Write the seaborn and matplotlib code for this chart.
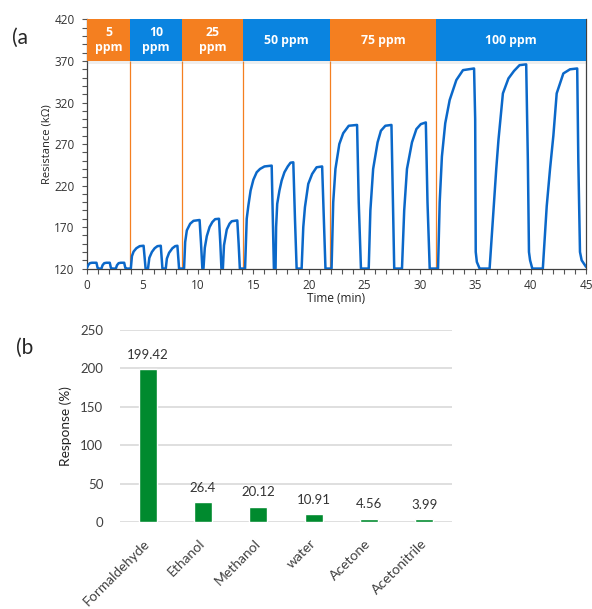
import matplotlib
matplotlib.use("Agg")
import matplotlib.pyplot as plt
import seaborn as sns
from matplotlib.patches import Rectangle
from matplotlib.ticker import MultipleLocator

# (a) resistance trace, time in min, resistance in kOhm
time_min = [
    0.0, 0.1, 0.25, 0.45, 0.85, 0.95, 1.0,
    1.3, 1.4, 1.55, 1.75, 2.05, 2.15, 2.2,
    2.6, 2.7, 2.85, 3.05, 3.35, 3.45, 3.5,
    3.95, 4.05, 4.2, 4.45, 4.75, 5.1, 5.2, 5.28,
    5.5, 5.62, 5.85, 6.1, 6.35, 6.65, 6.74, 6.8,
    7.1, 7.2, 7.4, 7.7, 7.95, 8.15, 8.24, 8.3,
    8.75, 8.85, 9.0, 9.3, 9.6, 10.15, 10.28, 10.4,
    10.5, 10.62, 10.8, 11.05, 11.3, 11.55, 11.9, 12.02, 12.12,
    12.25, 12.35, 12.6, 12.85, 13.05, 13.55, 13.67, 13.78,
    14.25, 14.4, 14.55, 14.75, 15.0, 15.3, 15.6, 16.0, 16.65, 16.75, 16.85,
    17.0, 17.05, 17.15, 17.35, 17.55, 17.8, 18.1, 18.35, 18.6, 18.75, 18.9,
    19.35, 19.5, 19.65, 19.95, 20.3, 20.7, 21.2, 21.35, 21.5,
    22.05, 22.2, 22.4, 22.75, 23.1, 23.6, 24.35, 24.5, 24.7,
    25.4, 25.55, 25.8, 26.2, 26.5, 26.9, 27.45, 27.58, 27.7,
    28.4, 28.6, 28.85, 29.3, 29.7, 30.1, 30.55, 30.7, 30.9,
    31.65, 31.8, 32.0, 32.3, 32.7, 33.3, 33.9, 34.9, 35.0, 35.05, 35.15, 35.4,
    36.3, 36.6, 36.9, 37.1, 37.5, 38.0, 38.5, 39.0, 39.6, 39.75, 39.85, 39.95, 40.15,
    41.1, 41.45, 41.75, 42.05, 42.35, 42.95, 43.55, 44.2, 44.3, 44.45, 44.6, 45.0,
]
resistance_kohm = [
    121, 124, 126.5, 127, 127, 121, 120,
    120, 124, 126.5, 127, 127, 121, 120,
    120, 124, 126.5, 127, 127, 121, 120,
    120, 135, 140.5, 144.5, 147, 147.5, 132, 120,
    120, 133, 140, 144.5, 147, 147.5, 132, 120,
    120, 132, 139, 144.5, 147, 147.5, 132, 120,
    120, 152, 166, 174, 177.5, 178.5, 150, 120,
    120, 145, 159, 170, 176, 179.5, 180, 150, 120,
    120, 148, 167, 174, 177, 178, 150, 120,
    120, 180, 196, 214, 227, 236, 240, 243, 244, 180, 120,
    120, 170, 198, 214, 226, 236, 243, 247.5, 248, 180, 120,
    120, 170, 194, 222, 234, 242, 243, 180, 120,
    120, 200, 240, 270, 283, 292, 293, 200, 120,
    120, 190, 240, 272, 286, 292, 293, 200, 120,
    120, 190, 240, 272, 288, 294, 296, 200, 120,
    120, 200, 255, 295, 323, 347, 359, 361, 300, 140, 128, 120,
    120, 180, 240, 275, 331, 349, 358, 365, 366, 250, 140, 130, 120,
    120, 195, 240, 280, 331, 355, 360, 361, 250, 140, 130, 122,
]
band_edges = [0, 3.9, 8.55, 14.1, 21.9, 31.5, 45]
band_labels = ["5\nppm", "10\nppm", "25\nppm", "50 ppm", "75 ppm", "100 ppm"]

# (b) response to the different vapours
solvents = ["Formaldehyde", "Ethanol", "Methanol", "water", "Acetone", "Acetonitrile"]
response_pct = [199.42, 26.4, 20.12, 10.91, 4.56, 3.99]
response_text = ["199.42", "26.4", "20.12", "10.91", "4.56", "3.99"]

ORANGE = "#F47F20"
BLUE = "#0A84E0"
TRACE = "#0B68C9"
GREEN = "#008A2E"

sns.set_style("ticks")
plt.rcParams["font.family"] = ["Open Sans", "DejaVu Sans"]

fig = plt.figure(figsize=(5.92, 6.09), dpi=100)
ax_a = fig.add_axes([0.147, 0.559, 0.843, 0.409])
ax_b = fig.add_axes([0.2027, 0.1424, 0.5608, 0.3158])

# ---- panel (a)
sns.lineplot(x=time_min, y=resistance_kohm, sort=False, estimator=None,
             color=TRACE, linewidth=1.8, ax=ax_a, zorder=3)
ax_a.vlines(band_edges[1:-1], 120, 370, color=ORANGE, linewidth=0.9, zorder=2)
for i, (x0, x1) in enumerate(zip(band_edges[:-1], band_edges[1:])):
    colour = ORANGE if i % 2 == 0 else BLUE
    # soft drop shadow under the header bands
    ax_a.add_patch(Rectangle((x0, 366), x1 - x0, 4, facecolor="#909090",
                             alpha=0.15, edgecolor="none", zorder=3.5))
    ax_a.add_patch(Rectangle((x0, 370), x1 - x0, 50, facecolor=colour,
                             edgecolor="none", zorder=4))
    ax_a.text((x0 + x1) / 2, 395, band_labels[i], ha="center", va="center",
              color="white", fontweight="bold", fontsize=8.8, linespacing=1.2,
              zorder=5)
ax_a.set_xlim(0, 45)
ax_a.set_ylim(120, 420)
ax_a.set_xticks(range(0, 46, 5))
ax_a.set_yticks(range(120, 421, 50))
ax_a.xaxis.set_minor_locator(MultipleLocator(1))
ax_a.yaxis.set_minor_locator(MultipleLocator(10))
ax_a.tick_params(which="both", direction="out", length=3.5, width=0.8,
                 color="#555555", labelsize=8.5, labelcolor="#333333")
ax_a.tick_params(axis="y", pad=5.5)
ax_a.tick_params(axis="x", pad=4)
ax_a.spines["top"].set_visible(False)
for side in ["left", "bottom", "right"]:
    ax_a.spines[side].set_color("#404040")
    ax_a.spines[side].set_linewidth(0.9)
ax_a.set_xlabel("Time (min)", fontsize=8.5, labelpad=0, color="#222222")
ax_a.set_ylabel("Resistance (kΩ)", fontsize=8, labelpad=1, color="#222222")

# ---- panel (b)
sns.barplot(x=solvents, y=response_pct, color=GREEN, saturation=1,
            width=0.32, ax=ax_b, zorder=3)
ax_b.bar_label(ax_b.containers[0], labels=response_text, padding=6,
               fontsize=9.5, color="#333333", family="Lato")
ax_b.set_xlim(-0.5, 5.5)
ax_b.set_ylim(0, 250)
ax_b.set_yticks(range(0, 251, 50))
ax_b.grid(axis="y", color="#D9D9D9", linewidth=1.2)
ax_b.set_axisbelow(True)
sns.despine(ax=ax_b, left=True, bottom=True)
ax_b.tick_params(axis="y", length=0, pad=12, labelsize=9.5, labelcolor="#404040")
ax_b.tick_params(axis="x", length=0, pad=14, labelsize=10, labelcolor="#404040")
for lab in ax_b.get_yticklabels() + ax_b.get_xticklabels():
    lab.set_family("Lato")
for lab in ax_b.get_xticklabels():
    lab.set_rotation(45)
    lab.set_ha("right")
    lab.set_va("center")
    lab.set_rotation_mode("anchor")
ax_b.set_ylabel("Response (%)", fontsize=9.8, labelpad=6, color="#222222",
                family="Lato")

fig.text(0.02, 1 - 37.5 / 609, "(a", fontsize=15, family="Lato", va="center")
fig.text(0.027, 1 - 348 / 609, "(b", fontsize=15, family="Lato", va="center")

fig.savefig("out.png", dpi=100)
plt.close(fig)
